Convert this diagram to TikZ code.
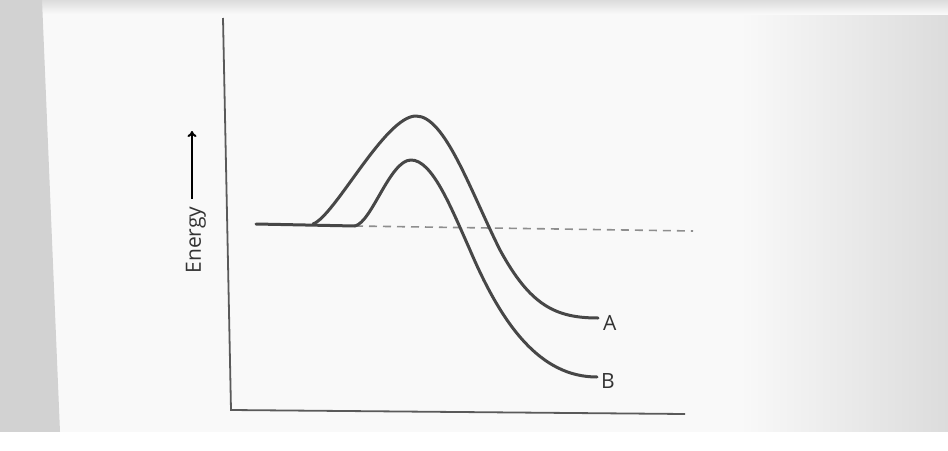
\documentclass[tikz,border=0pt]{standalone}
\usepackage{fontspec}
\setmainfont{Open Sans}
\usetikzlibrary{arrows.meta}
\definecolor{curvecol}{HTML}{474747}
\definecolor{axiscol}{HTML}{5A5A5A}
\definecolor{dashcol}{HTML}{8E8E8E}
\definecolor{stripcol}{HTML}{D2D2D2}
\definecolor{edgecol}{HTML}{DCDCDC}
\definecolor{pagecol}{HTML}{F9F9F9}
\tikzset{
  curve/.style={draw=curvecol, line width=3pt, line cap=round, line join=round},
  axis/.style={draw=axiscol, line width=1.8pt},
  dashline/.style={draw=dashcol, line width=1.6pt, dash pattern=on 8pt off 6pt},
  lbl/.style={font=\fontsize{21}{25}\selectfont, text=black!80, inner sep=0pt}
}
\begin{document}
\begin{tikzpicture}[x=1pt,y=-1pt]
\useasboundingbox (0,0) rectangle (948,450);
% paper background
\fill[pagecol] (0,0) rectangle (948,450);
\shade[left color=pagecol, right color=edgecol] (740,0) rectangle (948,432);
\shade[top color=edgecol, bottom color=pagecol] (0,0) rectangle (948,14);
\fill[stripcol] (0,0) -- (42,0) -- (60,432) -- (0,432) -- cycle;
\fill[white] (0,432) rectangle (948,450);
% axes
\coordinate (ytop) at (223,18);
\coordinate (origin) at (231,410);
\coordinate (xend) at (685,414);
\draw[axis] (ytop) -- (origin) -- (xend);
% energy label and arrow
\node[lbl, rotate=90] (energy) at (196,240) {Energy};
\coordinate (arrlo) at (192,199);
\coordinate (arrhi) at (192,131);
\draw[line width=2pt, -{To[length=6pt,width=9pt]}] (arrlo) -- (arrhi);
% dashed product reference line
\coordinate (dstart) at (355,226);
\coordinate (dend) at (693,231);
\draw[dashline] (dstart) -- (dend);
% baseline (reactants)
\coordinate (base) at (256,224);
\draw[curve] (base) -- (dstart);
% curve A
\coordinate (astart) at (313,224);
\coordinate (aend) at (598,318);
\draw[curve] (astart) .. controls (335,216) and (385,116) .. (416,116)
  .. controls (445,116) and (470,190) .. (500,250)
  .. controls (530,305) and (555,318) .. (aend);
% curve B
\coordinate (bend) at (597,377);
\draw[curve] (dstart) .. controls (372,222) and (390,160) .. (411,160)
  .. controls (432,160) and (450,205) .. (470,250)
  .. controls (502,325) and (540,377) .. (bend);
% labels
\node[lbl, anchor=west] (labA) at (603,323) {A};
\node[lbl, anchor=west] (labB) at (601,381) {B};
\end{tikzpicture}
\end{document}
